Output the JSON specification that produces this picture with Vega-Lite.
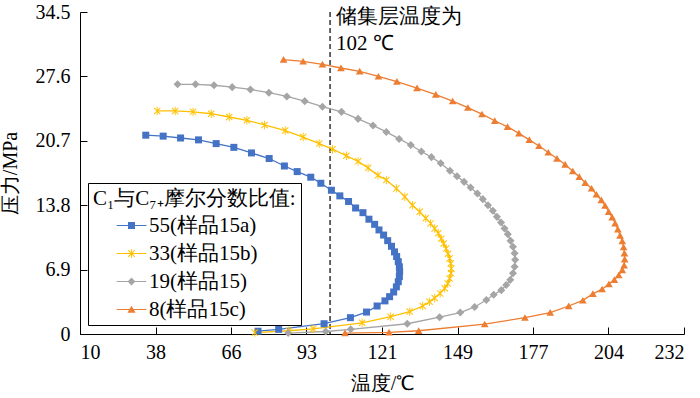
{
  "$schema": "https://vega.github.io/schema/vega-lite/v6.json",
  "width": 604,
  "height": 322,
  "autosize": {"type": "none"},
  "padding": {"left": 80, "top": 12, "right": 16, "bottom": 64},
  "background": "white",
  "config": {
    "view": {"stroke": null},
    "font": "Liberation Serif",
    "axis": {
      "grid": false,
      "domainColor": "black",
      "domainWidth": 1,
      "tickColor": "black",
      "tickWidth": 1,
      "tickSize": -7,
      "labelColor": "black",
      "labelFont": "Liberation Serif",
      "labelFontSize": 20,
      "titleFont": "Liberation Serif",
      "titleFontSize": 20,
      "titleFontWeight": "normal",
      "titleColor": "black"
    },
    "legend": {
      "titleFont": "Liberation Serif",
      "labelFont": "Liberation Serif",
      "titleFontSize": 21,
      "labelFontSize": 21,
      "titleFontWeight": "normal",
      "titleColor": "black",
      "labelColor": "black",
      "titleLimit": 400,
      "labelLimit": 300
    }
  },
  "datasets": {
    "curves": [
      {"s":"55(样品15a)","i":0,"t":34.2,"p":21.3},{"s":"55(样品15a)","i":1,"t":40.6,"p":21.2},{"s":"55(样品15a)","i":2,"t":47.0,"p":21.0},{"s":"55(样品15a)","i":3,"t":53.6,"p":20.8},{"s":"55(样品15a)","i":4,"t":60.1,"p":20.4},{"s":"55(样品15a)","i":5,"t":66.6,"p":20.0},{"s":"55(样品15a)","i":6,"t":73.1,"p":19.4},{"s":"55(样品15a)","i":7,"t":79.6,"p":18.8},{"s":"55(样品15a)","i":8,"t":85.2,"p":18.0},{"s":"55(样品15a)","i":9,"t":89.9,"p":17.4},{"s":"55(样品15a)","i":10,"t":94.9,"p":16.8},{"s":"55(样品15a)","i":11,"t":98.6,"p":16.15},{"s":"55(样品15a)","i":12,"t":102.5,"p":15.4},{"s":"55(样品15a)","i":13,"t":105.6,"p":14.8},{"s":"55(样品15a)","i":14,"t":108.8,"p":14.2},{"s":"55(样品15a)","i":15,"t":111.4,"p":13.5},{"s":"55(样品15a)","i":16,"t":114.1,"p":13.0},{"s":"55(样品15a)","i":17,"t":116.3,"p":12.3},{"s":"55(样品15a)","i":18,"t":118.4,"p":11.75},{"s":"55(样品15a)","i":19,"t":120.0,"p":11.15},{"s":"55(样品15a)","i":20,"t":121.7,"p":10.6},{"s":"55(样品15a)","i":21,"t":123.2,"p":10.0},{"s":"55(样品15a)","i":22,"t":124.6,"p":9.4},{"s":"55(样品15a)","i":23,"t":125.7,"p":8.8},{"s":"55(样品15a)","i":24,"t":126.5,"p":8.3},{"s":"55(样品15a)","i":25,"t":127.1,"p":7.75},{"s":"55(样品15a)","i":26,"t":127.5,"p":7.2},{"s":"55(样品15a)","i":27,"t":127.6,"p":6.7},{"s":"55(样品15a)","i":28,"t":127.5,"p":6.15},{"s":"55(样品15a)","i":29,"t":127.1,"p":5.6},{"s":"55(样品15a)","i":30,"t":126.4,"p":5.05},{"s":"55(样品15a)","i":31,"t":125.4,"p":4.5},{"s":"55(样品15a)","i":32,"t":123.9,"p":4.0},{"s":"55(样品15a)","i":33,"t":122.2,"p":3.55},{"s":"55(样品15a)","i":34,"t":119.3,"p":3.0},{"s":"55(样品15a)","i":35,"t":115.4,"p":2.35},{"s":"55(样品15a)","i":36,"t":109.5,"p":1.75},{"s":"55(样品15a)","i":37,"t":99.8,"p":1.1},{"s":"55(样品15a)","i":38,"t":83.1,"p":0.5},{"s":"55(样品15a)","i":39,"t":75.5,"p":0.3},
      {"s":"33(样品15b)","i":0,"t":38.4,"p":23.9},{"s":"33(样品15b)","i":1,"t":45.0,"p":23.9},{"s":"33(样品15b)","i":2,"t":51.6,"p":23.8},{"s":"33(样品15b)","i":3,"t":58.3,"p":23.6},{"s":"33(样品15b)","i":4,"t":64.9,"p":23.25},{"s":"33(样品15b)","i":5,"t":71.4,"p":22.9},{"s":"33(样品15b)","i":6,"t":77.9,"p":22.4},{"s":"33(样品15b)","i":7,"t":85.5,"p":21.8},{"s":"33(样品15b)","i":8,"t":92.1,"p":21.1},{"s":"33(样品15b)","i":9,"t":98.0,"p":20.4},{"s":"33(样品15b)","i":10,"t":102.9,"p":19.8},{"s":"33(样品15b)","i":11,"t":108.0,"p":19.1},{"s":"33(样品15b)","i":12,"t":112.3,"p":18.5},{"s":"33(样品15b)","i":13,"t":116.0,"p":17.8},{"s":"33(样品15b)","i":14,"t":119.6,"p":17.0},{"s":"33(样品15b)","i":15,"t":122.7,"p":16.5},{"s":"33(样品15b)","i":16,"t":126.4,"p":15.6},{"s":"33(样品15b)","i":17,"t":129.5,"p":14.7},{"s":"33(样品15b)","i":18,"t":132.3,"p":13.8},{"s":"33(样品15b)","i":19,"t":135.0,"p":13.1},{"s":"33(样品15b)","i":20,"t":137.2,"p":12.4},{"s":"33(样品15b)","i":21,"t":139.0,"p":11.85},{"s":"33(样品15b)","i":22,"t":140.5,"p":11.3},{"s":"33(样品15b)","i":23,"t":141.8,"p":10.8},{"s":"33(样品15b)","i":24,"t":142.9,"p":10.2},{"s":"33(样品15b)","i":25,"t":143.8,"p":9.7},{"s":"33(样品15b)","i":26,"t":144.7,"p":9.15},{"s":"33(样品15b)","i":27,"t":145.4,"p":8.6},{"s":"33(样品15b)","i":28,"t":146.0,"p":8.1},{"s":"33(样品15b)","i":29,"t":146.4,"p":7.55},{"s":"33(样品15b)","i":30,"t":146.6,"p":7.0},{"s":"33(样品15b)","i":31,"t":146.5,"p":6.5},{"s":"33(样品15b)","i":32,"t":146.0,"p":5.95},{"s":"33(样品15b)","i":33,"t":145.3,"p":5.4},{"s":"33(样品15b)","i":34,"t":144.2,"p":4.9},{"s":"33(样品15b)","i":35,"t":142.5,"p":4.35},{"s":"33(样品15b)","i":36,"t":140.5,"p":3.85},{"s":"33(样品15b)","i":37,"t":138.6,"p":3.45},{"s":"33(样品15b)","i":38,"t":136.1,"p":3.0},{"s":"33(样品15b)","i":39,"t":131.3,"p":2.4},{"s":"33(样品15b)","i":40,"t":124.3,"p":1.85},{"s":"33(样品15b)","i":41,"t":113.8,"p":1.2},{"s":"33(样品15b)","i":42,"t":95.8,"p":0.55},{"s":"33(样品15b)","i":43,"t":86.8,"p":0.35},{"s":"33(样品15b)","i":44,"t":74.3,"p":0.15},
      {"s":"19(样品15)","i":0,"t":45.9,"p":26.75},{"s":"19(样品15)","i":1,"t":52.5,"p":26.75},{"s":"19(样品15)","i":2,"t":59.3,"p":26.65},{"s":"19(样品15)","i":3,"t":66.0,"p":26.45},{"s":"19(样品15)","i":4,"t":72.7,"p":26.2},{"s":"19(样品15)","i":5,"t":79.5,"p":25.85},{"s":"19(样品15)","i":6,"t":86.1,"p":25.45},{"s":"19(样品15)","i":7,"t":92.7,"p":24.95},{"s":"19(样品15)","i":8,"t":99.2,"p":24.35},{"s":"19(样品15)","i":9,"t":106.2,"p":23.8},{"s":"19(样品15)","i":10,"t":112.3,"p":23.05},{"s":"19(样品15)","i":11,"t":117.8,"p":22.35},{"s":"19(样品15)","i":12,"t":122.7,"p":21.65},{"s":"19(样品15)","i":13,"t":127.4,"p":20.9},{"s":"19(样品15)","i":14,"t":131.7,"p":20.25},{"s":"19(样品15)","i":15,"t":135.6,"p":19.55},{"s":"19(样品15)","i":16,"t":139.3,"p":18.95},{"s":"19(样品15)","i":17,"t":142.7,"p":18.3},{"s":"19(样品15)","i":18,"t":146.1,"p":17.5},{"s":"19(样品15)","i":19,"t":148.7,"p":16.9},{"s":"19(样品15)","i":20,"t":151.3,"p":16.3},{"s":"19(样品15)","i":21,"t":153.7,"p":15.7},{"s":"19(样品15)","i":22,"t":156.2,"p":15.05},{"s":"19(样品15)","i":23,"t":158.2,"p":14.45},{"s":"19(样品15)","i":24,"t":160.1,"p":13.8},{"s":"19(样品15)","i":25,"t":161.9,"p":13.2},{"s":"19(样品15)","i":26,"t":163.4,"p":12.55},{"s":"19(样品15)","i":27,"t":164.9,"p":11.95},{"s":"19(样品15)","i":28,"t":166.2,"p":11.3},{"s":"19(样品15)","i":29,"t":167.4,"p":10.7},{"s":"19(样品15)","i":30,"t":168.4,"p":10.0},{"s":"19(样品15)","i":31,"t":169.3,"p":9.35},{"s":"19(样品15)","i":32,"t":169.9,"p":8.65},{"s":"19(样品15)","i":33,"t":170.1,"p":7.95},{"s":"19(样品15)","i":34,"t":169.9,"p":7.2},{"s":"19(样品15)","i":35,"t":169.3,"p":6.5},{"s":"19(样品15)","i":36,"t":168.3,"p":5.8},{"s":"19(样品15)","i":37,"t":166.8,"p":5.25},{"s":"19(样品15)","i":38,"t":165.0,"p":4.7},{"s":"19(样品15)","i":39,"t":162.2,"p":4.2},{"s":"19(样品15)","i":40,"t":159.5,"p":3.65},{"s":"19(样品15)","i":41,"t":155.2,"p":2.9},{"s":"19(样品15)","i":42,"t":149.9,"p":2.3},{"s":"19(样品15)","i":43,"t":142.3,"p":1.8},{"s":"19(样品15)","i":44,"t":130.4,"p":1.1},{"s":"19(样品15)","i":45,"t":109.6,"p":0.5},{"s":"19(样品15)","i":46,"t":100.4,"p":0.27},{"s":"19(样品15)","i":47,"t":86.6,"p":0.1},
      {"s":"8(样品15c)","i":0,"t":84.9,"p":29.4},{"s":"8(样品15c)","i":1,"t":92.1,"p":29.2},{"s":"8(样品15c)","i":2,"t":99.2,"p":28.9},{"s":"8(样品15c)","i":3,"t":106.0,"p":28.5},{"s":"8(样品15c)","i":4,"t":112.9,"p":28.15},{"s":"8(样品15c)","i":5,"t":119.8,"p":27.6},{"s":"8(样品15c)","i":6,"t":126.6,"p":27.05},{"s":"8(样品15c)","i":7,"t":134.0,"p":26.35},{"s":"8(样品15c)","i":8,"t":140.9,"p":25.65},{"s":"8(样品15c)","i":9,"t":147.1,"p":24.95},{"s":"8(样品15c)","i":10,"t":152.7,"p":24.25},{"s":"8(样品15c)","i":11,"t":157.9,"p":23.55},{"s":"8(样品15c)","i":12,"t":162.6,"p":22.85},{"s":"8(样品15c)","i":13,"t":167.3,"p":22.2},{"s":"8(样品15c)","i":14,"t":171.5,"p":21.5},{"s":"8(样品15c)","i":15,"t":175.3,"p":20.8},{"s":"8(样品15c)","i":16,"t":178.9,"p":20.15},{"s":"8(样品15c)","i":17,"t":182.3,"p":19.45},{"s":"8(样品15c)","i":18,"t":185.5,"p":18.8},{"s":"8(样品15c)","i":19,"t":188.5,"p":18.15},{"s":"8(样品15c)","i":20,"t":191.3,"p":17.45},{"s":"8(样品15c)","i":21,"t":193.7,"p":16.85},{"s":"8(样品15c)","i":22,"t":195.9,"p":16.2},{"s":"8(样品15c)","i":23,"t":198.2,"p":15.6},{"s":"8(样品15c)","i":24,"t":200.0,"p":14.95},{"s":"8(样品15c)","i":25,"t":201.8,"p":14.35},{"s":"8(样品15c)","i":26,"t":203.2,"p":13.75},{"s":"8(样品15c)","i":27,"t":204.5,"p":13.1},{"s":"8(样品15c)","i":28,"t":205.8,"p":12.5},{"s":"8(样品15c)","i":29,"t":206.9,"p":11.85},{"s":"8(样品15c)","i":30,"t":207.9,"p":11.2},{"s":"8(样品15c)","i":31,"t":208.7,"p":10.55},{"s":"8(样品15c)","i":32,"t":209.5,"p":9.95},{"s":"8(样品15c)","i":33,"t":210.0,"p":9.3},{"s":"8(样品15c)","i":34,"t":210.3,"p":8.65},{"s":"8(样品15c)","i":35,"t":210.4,"p":8.0},{"s":"8(样品15c)","i":36,"t":210.2,"p":7.35},{"s":"8(样品15c)","i":37,"t":209.5,"p":6.85},{"s":"8(样品15c)","i":38,"t":208.2,"p":6.3},{"s":"8(样品15c)","i":39,"t":206.6,"p":5.8},{"s":"8(样品15c)","i":40,"t":204.6,"p":5.35},{"s":"8(样品15c)","i":41,"t":202.1,"p":4.8},{"s":"8(样品15c)","i":42,"t":198.7,"p":4.3},{"s":"8(样品15c)","i":43,"t":195.0,"p":3.6},{"s":"8(样品15c)","i":44,"t":189.8,"p":3.0},{"s":"8(样品15c)","i":45,"t":183.0,"p":2.3},{"s":"8(样品15c)","i":46,"t":173.7,"p":1.75},{"s":"8(样品15c)","i":47,"t":158.9,"p":1.05},{"s":"8(样品15c)","i":48,"t":134.6,"p":0.35},{"s":"8(样品15c)","i":49,"t":123.7,"p":0.18},{"s":"8(样品15c)","i":50,"t":107.5,"p":0.1}
    ],
    "marker": [{"t": 102, "label": ["储集层温度为", "102 ℃"]}]
  },
  "layer": [
    {
      "data": {"name": "marker"},
      "mark": {"type": "rule", "color": "black", "strokeWidth": 1.2, "strokeDash": [5, 3]},
      "encoding": {"x": {"field": "t", "type": "quantitative"}}
    },
    {
      "data": {"name": "marker"},
      "mark": {"type": "text", "align": "left", "baseline": "top", "dx": 6, "dy": -6, "fontSize": 21, "lineHeight": 27, "font": "Liberation Serif", "color": "black"},
      "encoding": {
        "x": {"field": "t", "type": "quantitative"},
        "y": {"datum": 34.5, "type": "quantitative"},
        "text": {"field": "label"}
      }
    },
    {
      "data": {"name": "curves"},
      "mark": {"type": "line", "strokeWidth": 1.3},
      "encoding": {
        "x": {"field": "t", "type": "quantitative"},
        "y": {"field": "p", "type": "quantitative"},
        "order": {"field": "i", "type": "quantitative"},
        "detail": {"field": "s", "type": "nominal"},
        "stroke": {"condition": [
          {"test": "datum.s === '55(样品15a)'", "value": "#4472C4"},
          {"test": "datum.s === '33(样品15b)'", "value": "#FFC000"},
          {"test": "datum.s === '19(样品15)'", "value": "#A5A5A5"}
        ], "value": "#ED7D31"}
      }
    },
    {
      "data": {"name": "curves"},
      "mark": {"type": "point", "filled": true, "opacity": 1, "size": 49},
      "encoding": {
        "x": {
          "field": "t", "type": "quantitative", "title": "温度/℃",
          "scale": {"domain": [10, 232.22], "nice": false, "zero": false},
          "axis": {"values": [10, 37.78, 65.56, 93.33, 121.11, 148.89, 176.67, 204.44, 232.22], "labelExpr": "format(datum.value, '.0f')", "labelPadding": 15, "titlePadding": 11}
        },
        "y": {
          "field": "p", "type": "quantitative", "title": "压力/MPa",
          "scale": {"domain": [0, 34.5], "nice": false},
          "axis": {"values": [0, 6.9, 13.8, 20.7, 27.6, 34.5], "labelExpr": "datum.value === 0 ? '0' : format(datum.value, '.1f')", "labelPadding": 17, "titlePadding": 15}
        },
        "color": {"field": "s", "type": "nominal",
          "scale": {"domain": ["55(样品15a)", "33(样品15b)", "19(样品15)", "8(样品15c)"], "range": ["#4472C4", "#FFC000", "#A5A5A5", "#ED7D31"]},
          "legend": {
            "title": "C₁与C₇₊摩尔分数比值:",
            "orient": "none", "legendX": 8, "legendY": 171,
            "padding": 5, "strokeColor": "black", "fillColor": "white",
            "symbolSize": 729, "rowPadding": 3, "titlePadding": 2, "labelOffset": 3, "symbolOffset": 24,
            "symbolOpacity": 1,
            "symbolType": {"expr": "datum.index === 0 ? 'M-1.1,-0.045H1.1V0.045H-1.1ZM-0.26,-0.26H0.26V0.26H-0.26Z' : datum.index === 1 ? 'M-1.1,-0.045H1.1V0.045H-1.1ZM-0.27,-0.216L-0.216,-0.27L0.27,0.216L0.216,0.27ZM0.27,-0.216L-0.216,0.27L-0.27,0.216L0.216,-0.27ZM-0.035,-0.32H0.035V0.32H-0.035Z' : datum.index === 2 ? 'M-1.1,-0.045H1.1V0.045H-1.1ZM0,-0.29L0.29,0L0,0.29L-0.29,0Z' : 'M-1.1,-0.045H1.1V0.045H-1.1ZM0,-0.28L0.3,0.24H-0.3Z'"}
          }
        },
        "shape": {"condition": [
          {"test": "datum.s === '55(样品15a)'", "value": "M-1,-1H1V1H-1Z"},
          {"test": "datum.s === '33(样品15b)'", "value": "M-1,-0.8L-0.8,-1L1,0.8L0.8,1ZM1,-0.8L-0.8,1L-1,0.8L0.8,-1ZM-0.13,-1.2H0.13V1.2H-0.13Z"},
          {"test": "datum.s === '19(样品15)'", "value": "M0,-1.15L1.15,0L0,1.15L-1.15,0Z"}
        ], "value": "M0,-1L1.1,0.9H-1.1Z"}
      }
    }
  ]
}
